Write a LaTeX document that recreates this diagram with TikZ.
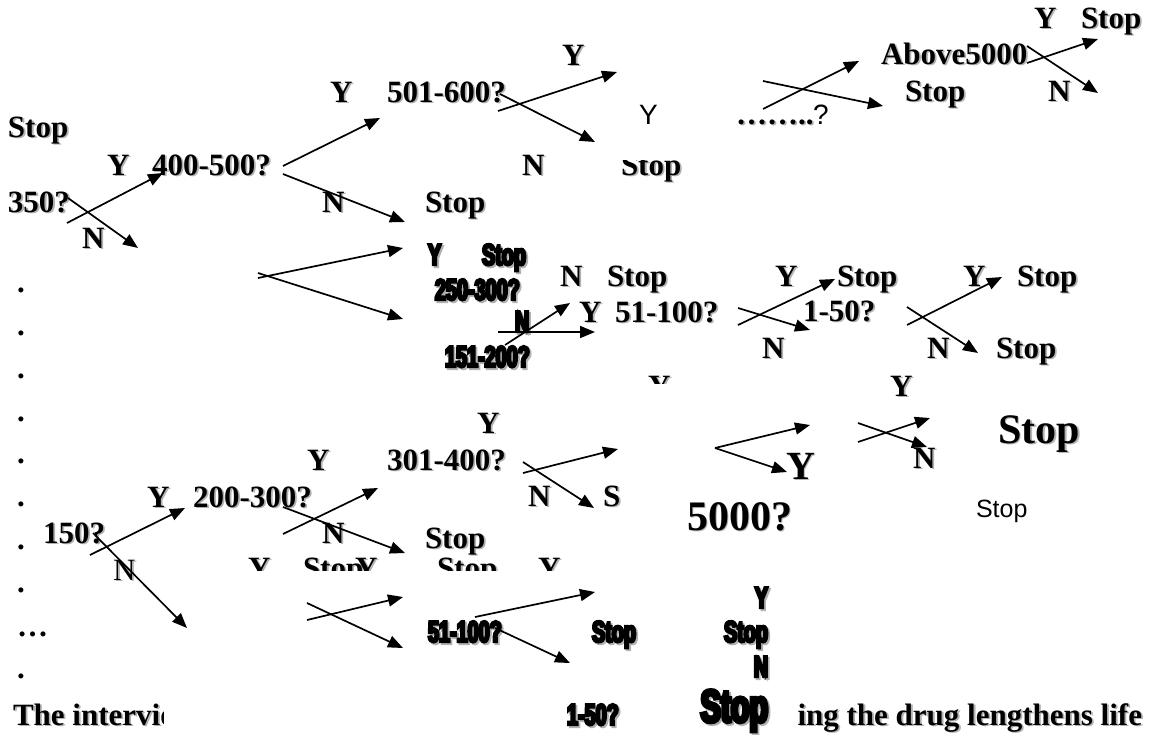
\documentclass[tikz,border=0pt]{standalone}
\usepackage{fontspec}
\setmainfont{Liberation Serif}
\newfontfamily\sansf{Liberation Sans}
\newfontfamily\impf[FakeStretch=0.66,FakeBold=8]{Liberation Sans}
\usetikzlibrary{arrows.meta}
\newcommand\shd[1]{\makebox[0pt][l]{\kern1.8pt\raisebox{-1.8pt}{\color{black!30}#1}}#1}
\tikzset{
  lbl/.style={inner sep=0pt, outer sep=0pt, anchor=base west},
  sb/.style={lbl, font=\fontsize{31}{36}\selectfont\bfseries},
  sr/.style={lbl, font=\fontsize{31}{36}\selectfont},
  big/.style={lbl, font=\fontsize{42}{48}\selectfont\bfseries},
  bigy/.style={lbl, font=\fontsize{40}{46}\selectfont\bfseries},
  sa/.style={lbl, font=\fontsize{28}{32}\sansf},
  sas/.style={lbl, font=\fontsize{25}{30}\sansf},
  im/.style={lbl, font=\fontsize{30}{34}\impf\bfseries},
  imr/.style={im, anchor=base east},
  imbig/.style={lbl, anchor=base east, font=\fontsize{46}{52}\impf\bfseries},
  arr/.style={line width=1.7pt, -{Triangle[length=15pt,width=12pt]}}
}
\begin{document}
\begin{tikzpicture}[x=1pt,y=-1pt]
\useasboundingbox (0,0) rectangle (1154,734);
% ---- serif bold labels
\node[sb] (t1) at (8,137) {\shd{Stop}};
\node[sb] (t2) at (107,175) {\shd{Y}};
\node[sb] (t3) at (152,175) {\shd{400-500?}};
\node[sb] (t4) at (8,212) {\shd{350?}};
\node[sb] (t5) at (82,248) {\shd{N}};
\node[sb] (t6) at (322,212) {\shd{N}};
\node[sb] (t7) at (425,212) {\shd{Stop}};
\node[sb] (t8) at (330,102) {\shd{Y}};
\node[sb] (t9) at (387,102) {\shd{501-600?}};
\node[sb] (t10) at (562,65) {\shd{Y}};
\node[sb] (t11) at (522,175) {\shd{N}};
\begin{scope}
\clip (600,160) rectangle (700,200);
\node[sb] (t12) at (621,175) {\shd{Stop}};
\end{scope}
\node[sb] (t13) at (736,124) {\shd{……..}};
\node[sa] (t13q) at (813,124) {?};
\node[sa] (t13y) at (639,124) {Y};
\node[sb] (t14) at (881,64) {\shd{Above5000}};
\node[sb] (t15) at (905,101) {\shd{Stop}};
\node[sb] (t16) at (1034,28) {\shd{Y}};
\node[sb] (t17) at (1081,28) {\shd{Stop}};
\node[sb] (t18) at (1048,101) {\shd{N}};
\node[sb] (t19) at (560,286) {\shd{N}};
\node[sb] (t20) at (607,286) {\shd{Stop}};
\node[sb] (t21) at (579,322) {\shd{Y}};
\node[sb] (t22) at (615,322) {\shd{51-100?}};
\node[sb] (t23) at (775,286) {\shd{Y}};
\node[sb] (t24) at (837,286) {\shd{Stop}};
\node[sb] (t25) at (803,321) {\shd{1-50?}};
\node[sb] (t26) at (762,358) {\shd{N}};
\node[sb] (t27) at (963,286) {\shd{Y}};
\node[sb] (t28) at (1017,286) {\shd{Stop}};
\node[sb] (t29) at (927,358) {\shd{N}};
\node[sb] (t30) at (996,358) {\shd{Stop}};
\begin{scope}
\clip (640,360) rectangle (690,383);
\node[sb] (t31) at (648,396) {\shd{Y}};
\end{scope}
\node[sb] (t32) at (890,396) {\shd{Y}};
\node[sb] (t33) at (913,468) {\shd{N}};
\node[sb] (t34) at (477,433) {\shd{Y}};
\node[sb] (t35) at (307,470) {\shd{Y}};
\node[sb] (t36) at (387,470) {\shd{301-400?}};
\node[sb] (t37) at (528,506) {\shd{N}};
\node[sb] (t38) at (603,506) {\shd{S}};
\node[sb] (t39) at (147,507) {\shd{Y}};
\node[sb] (t40) at (193,507) {\shd{200-300?}};
\node[sb] (t41) at (43,543) {\shd{150?}};
\node[sb] (t42) at (322,543) {\shd{N}};
\node[sb] (t43) at (425,548) {\shd{Stop}};
\node[sr] (t44) at (113,580) {\shd{N}};
\begin{scope}
\clip (240,550) rectangle (580,570);
\node[sb] (r1) at (248,578) {\shd{Y}};
\node[sb] (r2) at (303,578) {\shd{Stop}};
\node[sb] (r3) at (355,578) {\shd{Y}};
\node[sb] (r4) at (437,578) {\shd{Stop}};
\node[sb] (r5) at (538,578) {\shd{Y}};
\end{scope}
% ---- dots column
\foreach \i/\yy in {1/292,2/335,3/378,4/421,5/463,6/506,7/549,8/592,9/678}
  \node[sb] (d\i) at (17,\yy) {.};
\node[sb] (dd) at (17,636) {…};
% ---- large labels
\node[big] (b1) at (998,443) {\shd{Stop}};
\node[big] (b2) at (687,530) {\shd{5000?}};
\node[bigy] (b3) at (786,479) {\shd{Y}};
\node[sas] (s1) at (976,517) {Stop};
% ---- condensed heavy labels
\node[im] (i1) at (428,265) {\shd{Y}};
\node[im] (i2) at (482,265) {\shd{Stop}};
\node[im] (i3) at (435,300) {\shd{250-300?}};
\node[im] (i4) at (515,332) {\shd{N}};
\node[im] (i5) at (445,367) {\shd{151-200?}};
\node[im] (i6) at (428,642) {\shd{51-100?}};
\node[im] (i7) at (592,642) {\shd{Stop}};
\node[imr] (i8) at (768,608) {\shd{Y}};
\node[imr] (i9) at (768,642) {\shd{Stop}};
\node[imr] (i10) at (768,677) {\shd{N}};
\node[im] (i11) at (567,725) {\shd{1-50?}};
\node[imbig] (i12) at (768,722) {\shd{Stop}};
% ---- bottom sentence (partly hidden)
\begin{scope}
\clip (0,690) rectangle (163,734);
\node[sb] (q1) at (13,725) {\shd{The interview}};
\end{scope}
\begin{scope}
\clip (781,690) rectangle (1154,734);
\node[sb, anchor=base east] (q2) at (1142,725) {\shd{ing the drug lengthens life}};
\end{scope}
% ---- arrows
\foreach \i/\sx/\sy/\ex/\ey in {
  1/67/223/163/173, 2/68/198/138/248, 3/283/166/380/118, 4/283/174/405/222,
  5/498/111/617/72, 6/500/94/595/142, 7/763/109/859/61, 8/763/81/883/106,
  9/1027/63/1098/39, 10/1027/46/1098/93, 11/258/278/403/248, 12/258/273/403/319,
  13/498/332/595/332, 14/505/345/570/303, 15/738/325/835/279, 16/738/308/810/330,
  17/907/325/1002/277, 18/907/307/978/353, 19/858/442/930/418, 20/858/423/927/447,
  21/715/448/810/425, 22/715/448/787/472, 23/523/473/618/449, 24/523/462/594/508,
  25/90/555/185/508, 26/93/533/187/628, 27/283/534/378/488, 28/283/507/405/553,
  29/307/620/403/597, 30/307/603/403/648, 31/475/617/595/592, 32/495/628/570/663}
{
  \coordinate (s\i) at (\sx,\sy);
  \coordinate (e\i) at (\ex,\ey);
  \draw[arr] (s\i) -- (e\i);
}
\end{tikzpicture}
\end{document}
